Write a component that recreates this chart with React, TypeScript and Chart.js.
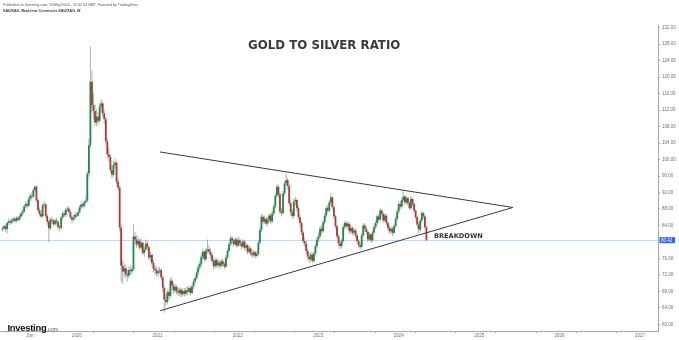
import React, { useEffect, useRef } from "react";
import { Chart, registerables } from "chart.js";

Chart.register(...registerables);

// ---- data (weekly XAU/XAG candles) ----
const FIRST_WEEK = Date.UTC(2019, 0, 28);
const FIRST_OPEN = 83.0;

const close2019 = [83.3,83.8,83.1,84.6,85.0,84.7,85.2,85.6,85.1,85.8,85.4,86.2,86.9,87.4,88.6,89.2,88.8,90.4,91.2,91.0,92.6,93.4,90.1,87.7,86.8,86.2,88.9,89.1,86.3,84.9,83.3,85.4,85.1,84.3,85.2,84.9,83.6,83.4,85.9,86.9,86.5,87.8,88.1,87.3,86.0,85.4,85.9,86.6,86.4];
const high2019 = [83.9,84.3,84.2,85.0,85.6,85.5,85.8,86.1,86.0,86.3,86.2,86.7,87.4,87.9,89.1,89.8,89.9,90.9,91.8,92.0,93.1,93.8,93.6,90.5,88.3,87.6,89.4,89.9,89.5,86.8,85.3,85.9,86.2,85.6,85.7,85.8,85.2,84.1,86.3,87.4,87.6,88.3,88.7,88.6,87.7,86.5,86.5,87.2,87.1];
const low2019 = [82.6,82.9,82.4,82.0,84.1,84.2,84.3,84.8,84.6,84.7,84.9,85.0,85.8,86.3,87.0,88.1,88.2,88.5,89.9,90.3,90.6,92.0,89.6,87.1,86.2,85.7,85.9,88.2,85.8,84.1,79.9,82.8,84.5,83.8,83.9,84.2,83.0,82.6,83.1,85.5,86.0,86.1,87.2,86.8,85.5,84.6,84.9,85.4,85.8];

const close2020 = [87.2,88.4,89.1,88.7,89.6,90.0,96.6,103.5,118.9,113.2,111.8,109.0,110.4,109.4,112.8,113.6,111.2,109.8,104.4,101.2,100.6,97.4,96.3,98.7,99.2,94.6,93.2,83.5,74.2,72.8,73.6,72.1,71.8,73.2,72.9,73.4,81.3,80.6,79.4,80.2,78.6,79.8,77.3,78.2,79.6,78.7,76.2,76.8,74.9,73.5,73.1,72.4];
const high2020 = [87.8,88.9,89.6,89.8,90.2,91.0,97.2,105.0,127.4,121.6,116.2,113.4,112.2,111.6,113.8,114.6,114.2,112.0,110.4,105.2,102.8,101.4,98.6,99.6,100.2,99.6,95.4,93.6,84.2,75.6,74.8,74.4,73.2,74.0,74.2,74.1,84.2,82.4,81.6,81.4,80.8,80.9,80.1,78.9,80.6,80.2,79.0,77.6,77.3,75.6,74.4,73.9];
const low2020 = [86.0,86.9,87.9,88.1,88.3,89.2,89.6,95.8,102.8,111.4,109.8,108.2,108.1,108.4,108.9,111.4,110.4,108.6,103.6,100.4,99.6,96.8,95.4,95.9,97.8,94.0,92.4,82.6,70.2,69.8,71.6,71.2,70.4,71.2,72.0,72.2,73.0,79.4,78.6,78.8,78.0,78.2,76.8,76.4,77.8,77.9,75.6,75.4,74.2,72.6,72.0,71.6];

const close2021 = [72.9,73.2,71.4,68.9,66.0,65.4,67.8,66.9,70.6,69.4,68.2,69.1,68.0,67.6,68.4,67.3,68.1,67.4,68.3,67.9,68.8,67.6,69.2,70.4,71.2,72.6,73.8,74.6,76.4,77.6,75.8,77.9,78.2,77.6,76.8,75.4,74.1,75.6,74.3,75.0,74.2,75.3,74.6,74.0,76.2,77.8,79.4,80.9,80.3,79.4,80.6,79.1];
const high2021 = [73.8,74.0,73.6,71.8,69.4,67.2,68.4,68.6,71.4,71.2,70.0,69.8,69.6,68.8,69.0,68.9,68.7,68.8,69.0,69.2,69.4,69.1,69.8,71.0,71.9,73.2,74.6,75.4,77.2,78.4,78.0,78.6,80.6,79.2,78.4,77.4,76.0,76.2,76.1,75.8,75.6,76.0,75.9,75.2,76.8,78.4,80.0,81.6,81.4,80.8,81.2,81.0];
const low2021 = [71.6,72.1,70.8,67.8,62.8,64.4,64.8,66.0,66.4,68.6,67.4,67.6,67.2,66.9,66.8,66.6,66.8,66.7,66.9,67.2,67.4,67.0,67.2,68.6,69.8,70.8,72.0,73.2,74.0,75.8,75.2,75.4,77.2,77.0,76.0,74.8,73.4,73.6,73.7,73.8,73.4,73.8,74.0,73.4,73.6,75.8,77.2,79.0,79.6,78.8,79.0,78.6];

const close2022 = [80.4,79.7,78.9,80.1,78.6,79.2,77.6,78.4,77.2,76.8,77.5,76.6,77.1,79.8,82.9,86.1,84.9,85.6,84.5,85.3,86.4,85.0,86.9,88.6,91.2,93.4,91.6,87.4,87.0,91.8,94.2,95.0,93.6,89.4,87.2,86.3,89.8,90.2,88.2,86.0,84.6,82.3,80.2,79.6,77.8,76.4,75.8,76.9,75.4,77.2,79.0,80.6];
const high2022 = [81.2,80.9,80.2,80.8,80.4,79.8,79.5,79.0,78.8,77.9,78.1,77.9,77.8,80.4,83.6,86.8,86.6,86.4,86.0,86.0,87.0,86.8,87.6,89.3,91.9,94.0,93.9,92.0,88.2,92.4,94.8,96.7,95.6,94.0,90.0,88.0,90.4,91.0,90.6,88.8,86.6,85.0,82.8,81.0,80.2,78.4,77.2,77.6,77.4,77.8,79.6,81.2];
const low2022 = [78.8,79.0,78.2,78.4,78.0,77.9,77.0,77.1,76.6,76.2,76.3,76.0,76.2,76.8,79.4,82.4,84.2,84.4,83.8,84.0,84.8,84.4,84.6,86.4,88.2,90.8,90.9,86.8,86.2,86.6,91.2,93.6,92.8,88.8,86.4,85.6,85.8,88.8,87.4,85.4,83.8,81.6,79.6,78.8,77.0,75.6,74.8,75.2,74.9,75.0,76.8,78.6];

const close2023 = [81.4,83.2,82.6,84.8,86.4,88.2,87.6,89.6,90.8,88.4,86.2,83.8,81.4,79.6,79.0,80.2,83.6,84.6,83.8,84.4,82.6,83.4,82.2,82.8,81.6,80.2,79.2,78.8,81.6,84.0,83.2,82.4,80.6,81.8,80.4,82.2,83.6,84.6,86.2,85.4,87.6,86.8,85.2,86.4,84.6,83.4,82.6,83.2,82.2,83.8,85.6,87.4];
const high2023 = [82.2,83.8,84.0,85.4,87.0,88.8,89.0,90.2,91.8,91.2,88.8,86.6,84.2,82.0,80.4,80.8,84.2,85.2,85.0,85.0,84.8,84.0,83.8,83.4,83.2,82.0,80.8,79.8,82.2,84.6,84.4,83.8,82.8,82.4,82.2,82.8,84.2,85.2,86.8,86.8,88.2,88.0,87.2,87.0,86.8,85.0,84.0,83.8,83.6,84.4,86.2,88.0];
const low2023 = [80.0,80.8,82.0,82.2,84.2,85.8,87.0,87.2,89.0,87.8,85.6,83.2,80.8,78.9,78.2,78.4,79.8,83.0,83.2,83.2,82.0,82.0,81.6,81.6,81.0,79.6,78.6,78.2,78.4,81.2,82.6,81.8,80.0,80.2,79.8,80.0,81.8,83.0,84.0,84.8,85.0,86.2,84.6,84.8,84.0,82.8,82.0,82.0,81.4,81.8,83.4,85.2];

const close2024 = [89.2,88.6,90.2,91.0,89.6,90.6,89.4,88.2,90.4,89.2,87.6,86.0,84.2,83.0,85.2,87.0,86.2,83.6,80.42];
const high2024 = [89.8,89.9,90.8,92.4,91.4,91.2,91.0,89.8,91.0,90.8,89.6,88.0,86.4,84.8,85.8,87.6,87.4,86.6,84.0];
const low2024 = [86.8,88.0,88.2,89.6,89.0,89.0,88.8,87.6,87.8,88.6,87.0,85.4,83.6,82.0,82.6,84.6,85.6,83.0,80.2];

// axis ticks
const yTickValues = [60, 64, 68, 72, 76, 80, 84, 88, 92, 96, 100, 104, 108, 112, 116, 120, 124, 128, 132];
const xYearLabels = ["2020", "2021", "2022", "2023", "2024", "2025", "2026", "2027"];
const firstMonthLabel = "Jun";

// triangle trend lines (decimal year, ratio)
const upperLine = [[2021.032, 101.83], [2025.42, 88.36]];
const lowerLine = [[2021.032, 63.3], [2025.42, 88.36]];

// ---- view ----
const X_MIN = 2019.0426;
const X_MAX = 2027.2237;
const Y_MIN = 58.38;
const Y_MAX = 132.65;

const GREEN = "#1c8a4b";
const RED = "#b23632";
const WICK = "rgba(105,135,115,0.6)";

function yearFrac(ms: number): number {
  const y = new Date(ms).getUTCFullYear();
  const a = Date.UTC(y, 0, 1);
  const b = Date.UTC(y + 1, 0, 1);
  return y + (ms - a) / (b - a);
}

const closes = [...close2019, ...close2020, ...close2021, ...close2022, ...close2023, ...close2024];
const highs = [...high2019, ...high2020, ...high2021, ...high2022, ...high2023, ...high2024];
const lows = [...low2019, ...low2020, ...low2021, ...low2022, ...low2023, ...low2024];
const DAY = 86400000;
const candles = closes.map((c, i) => ({
  t: yearFrac(FIRST_WEEK + i * 7 * DAY),
  o: i === 0 ? FIRST_OPEN : closes[i - 1],
  h: highs[i],
  l: lows[i],
  c,
}));
const LAST = closes[closes.length - 1];

const xTicks: { v: number; label: string }[] = (() => {
  const list: { v: number; label: string }[] = [{ v: yearFrac(Date.UTC(2019, 5, 1)), label: firstMonthLabel }];
  xYearLabels.forEach((lab) => {
    const y = Number(lab);
    list.push({ v: y, label: lab });
    const jun = yearFrac(Date.UTC(y, 5, 1));
    if (jun < X_MAX) list.push({ v: jun, label: "" });
  });
  return list.sort((a, b) => a.v - b.v);
})();

const lastPricePlugin = {
  id: "lastPrice",
  beforeDatasetsDraw(chart: any) {
    const { ctx, chartArea, scales } = chart;
    const py = Math.round(scales.y.getPixelForValue(LAST)) + 0.5;
    ctx.save();
    ctx.strokeStyle = "#c8d6f6";
    ctx.lineWidth = 1;
    ctx.beginPath();
    ctx.moveTo(chartArea.left, py);
    ctx.lineTo(chartArea.right, py);
    ctx.stroke();
    ctx.restore();
  },
  afterDraw(chart: any) {
    const { ctx, chartArea, scales } = chart;
    const py = scales.y.getPixelForValue(LAST);
    const x0 = chartArea.right + 1.5;
    ctx.save();
    ctx.fillStyle = "#2f63ee";
    ctx.fillRect(x0, py - 3, 15.5, 6);
    ctx.fillStyle = "#ffffff";
    ctx.font = "4.5px 'Liberation Sans', Arial, sans-serif";
    ctx.textBaseline = "middle";
    ctx.textAlign = "left";
    ctx.fillText(LAST.toFixed(2), x0 + 1.5, py + 0.3);
    ctx.restore();
  },
};

export default function App() {
  const ref = useRef<HTMLCanvasElement | null>(null);

  useEffect(() => {
    if (!ref.current) return;
    const bodyData = candles.map((k) => ({ x: k.t, y: [k.o, k.c] }));
    const wickData = candles.map((k) => ({ x: k.t, y: [k.l, k.h] }));
    const bodyColors = candles.map((k) => (k.c >= k.o ? GREEN : RED));

    const chart = new Chart(ref.current, {
      type: "bar",
      data: {
        datasets: [
          {
            type: "line",
            data: upperLine.map(([x, y]) => ({ x, y })),
            borderColor: "#3a3a3a",
            borderWidth: 1,
            pointRadius: 0,
            order: 0,
          } as any,
          {
            type: "line",
            data: lowerLine.map(([x, y]) => ({ x, y })),
            borderColor: "#3a3a3a",
            borderWidth: 1,
            pointRadius: 0,
            order: 0,
          } as any,
          {
            type: "bar",
            data: bodyData,
            backgroundColor: bodyColors,
            borderWidth: 0,
            barThickness: 1.8,
            grouped: false,
            inflateAmount: 0,
            order: 1,
          } as any,
          {
            type: "bar",
            data: wickData,
            backgroundColor: WICK,
            borderWidth: 0,
            barThickness: 1,
            grouped: false,
            inflateAmount: 0,
            order: 2,
          } as any,
        ],
      },
      options: {
        responsive: false,
        animation: false,
        devicePixelRatio: 1,
        layout: { padding: { top: 25, left: 0, right: 0, bottom: 0 } },
        plugins: { legend: { display: false }, tooltip: { enabled: false }, title: { display: false } },
        scales: {
          x: {
            type: "linear",
            min: X_MIN,
            max: X_MAX,
            offset: false,
            bounds: "data",
            afterBuildTicks: (s: any) => {
              s.ticks = xTicks.map((t) => ({ value: t.v }));
            },
            afterFit: (s: any) => {
              s.height = 9;
            },
            ticks: {
              autoSkip: false,
              maxRotation: 0,
              minRotation: 0,
              padding: 0,
              color: "#707070",
              font: { size: 4.5, family: "'Liberation Sans', Arial, sans-serif" },
              callback: (_v: any, i: number) => (xTicks[i] ? xTicks[i].label : ""),
            },
            grid: { drawOnChartArea: false, drawTicks: true, tickLength: 2, color: "#a8a8a8" },
            border: { display: true, color: "#a8a8a8", width: 1 },
          } as any,
          y: {
            type: "linear",
            position: "right",
            min: Y_MIN,
            max: Y_MAX,
            bounds: "data",
            afterBuildTicks: (s: any) => {
              s.ticks = yTickValues.filter((v) => Math.abs(v - LAST) > 2).map((v) => ({ value: v }));
            },
            afterFit: (s: any) => {
              s.width = 21;
            },
            ticks: {
              padding: 2,
              color: "#707070",
              font: { size: 4.5, family: "'Liberation Sans', Arial, sans-serif" },
              callback: (v: any) => Number(v).toFixed(2),
            },
            grid: { drawOnChartArea: false, drawTicks: true, tickLength: 2, color: "#a8a8a8" },
            border: { display: true, color: "#a8a8a8", width: 1 },
          } as any,
        },
      },
      plugins: [lastPricePlugin],
    } as any);
    return () => chart.destroy();
  }, []);

  const small = (top: number, text: string, bold: boolean) => (
    <div
      style={{
        position: "absolute",
        left: 3,
        top,
        fontFamily: "'Liberation Sans', Arial, sans-serif",
        fontSize: 8,
        lineHeight: 1,
        fontWeight: bold ? 700 : 400,
        color: bold ? "#333" : "#555",
        whiteSpace: "nowrap",
        transform: "scale(0.45)",
        transformOrigin: "0 0",
      }}
    >
      {text}
    </div>
  );

  return (
    <div style={{ position: "fixed", left: 0, top: 0, width: 679, height: 340, background: "#fff", overflow: "hidden" }}>
      <canvas ref={ref} width={679} height={340} style={{ position: "absolute", left: 0, top: 0, display: "block" }} />
      {small(3.2, "Published on Investing.com, 15/May/2024 - 20:32:54 GMT, Powered by TradingView.", false)}
      {small(9.2, "XAU/XAG, Real-time Currencies:XAU/XAG, W", true)}
      <div
        style={{
          position: "absolute",
          left: 200,
          width: 248.4,
          top: 40.3,
          textAlign: "center",
          fontFamily: "'DejaVu Sans', Verdana, sans-serif",
          fontWeight: 700,
          fontSize: 11.8,
          lineHeight: 1,
          color: "#3a3a3a",
          whiteSpace: "nowrap",
        }}
      >
        GOLD TO SILVER RATIO
      </div>
      <div
        style={{
          position: "absolute",
          left: 434,
          top: 232.8,
          fontFamily: "'DejaVu Sans', Verdana, sans-serif",
          fontWeight: 700,
          fontSize: 6.6,
          lineHeight: 1,
          color: "#333",
          whiteSpace: "nowrap",
        }}
      >
        BREAKDOWN
      </div>
      <div
        style={{
          position: "absolute",
          left: 7.5,
          top: 318,
          lineHeight: 1,
          whiteSpace: "nowrap",
          fontFamily: "'Liberation Sans', Arial, sans-serif",
        }}
      >
        <span style={{ fontSize: 9.4, fontWeight: 700, color: "#111", letterSpacing: -0.25 }}>Investing</span>
        <span style={{ fontSize: 5.5, color: "#666" }}>.com</span>
      </div>
    </div>
  );
}
